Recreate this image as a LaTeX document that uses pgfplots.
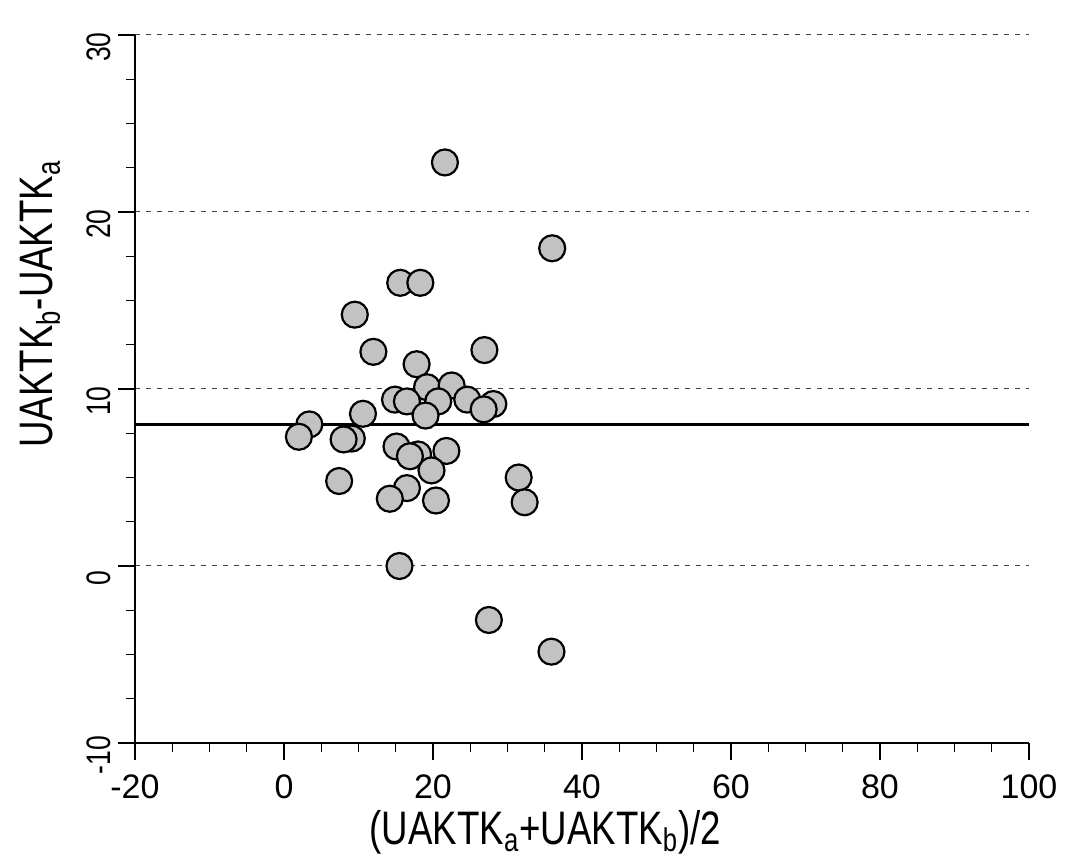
\documentclass[border=0pt]{standalone}
\usepackage{fontspec}
\setmainfont[FakeStretch=0.78]{Liberation Sans}
\newfontfamily\plainsans{Liberation Sans}
\usepackage{pgfplots}
\pgfplotsset{compat=1.18}
\begin{document}
\begin{tikzpicture}
\begin{axis}[
  name=ax,
  scale only axis,
  width=447pt, height=354pt,
  xmin=-20, xmax=100, ymin=-10, ymax=30,
  xtick={-20,0,20,40,60,80,100},
  ytick={-10,0,10,20,30},
  minor x tick num=3, minor y tick num=3,
  tick align=outside,
  major tick length=8.5pt, minor tick length=4.5pt,
  every tick/.style={black, line width=0.7pt},
  axis x line*=bottom, axis y line*=left,
  axis line style={-, line width=1pt},
  clip=false,
  ymajorgrids=true,
  major grid style={black!75, line width=0.5pt, dash pattern=on 2.5pt off 3pt},
  /pgf/number format/assume math mode=true,
  xticklabel style={font=\plainsans\fontsize{17}{20}\selectfont, anchor=north, yshift=-4pt},
  yticklabel style={font=\fontsize{17}{20}\selectfont, rotate=90, anchor=south, xshift=-6pt},
  xlabel={(UAKTK\textsubscript{a}+UAKTK\textsubscript{b})/2},
  ylabel={UAKTK\textsubscript{b}-UAKTK\textsubscript{a}},
  label style={font=\fontsize{23.5}{27}\selectfont},
  xlabel style={at={(axis description cs:0.459,-0.143)}, anchor=base},
  ylabel style={at={(axis description cs:-0.106,0.62)}, anchor=center},
]
\addplot[black, line width=1.5pt, forget plot] coordinates {(-20,7.97) (100,7.97)};
\addplot[only marks, mark=*, mark size=6.5pt,
  mark options={fill=black!24, draw=black, line width=1.1pt}] coordinates {
(21.6,22.8) (36.0,17.95) (15.6,16.0) (18.3,16.0) (9.5,14.2) (12.0,12.1)
(26.9,12.2) (17.8,11.4) (19.2,10.1) (22.5,10.2) (14.9,9.4) (16.5,9.3)
(20.7,9.3) (24.6,9.4) (28.1,9.15) (26.8,8.85) (19.0,8.5) (10.6,8.6)
(3.4,8.0) (2.0,7.3) (9.1,7.2) (8.0,7.15) (15.1,6.75) (18.0,6.3)
(16.9,6.2) (21.8,6.5) (19.8,5.4) (7.4,4.8) (31.5,5.0) (16.5,4.4)
(14.2,3.8) (20.4,3.7) (32.3,3.6) (15.5,0.0) (27.5,-3.05) (35.9,-4.84)
};
\end{axis}
\pgfresetboundingbox
\path ([xshift=-67.5pt,yshift=-57pt]ax.south west) rectangle ([xshift=27pt,yshift=17.5pt]ax.north east);
\end{tikzpicture}
\end{document}
